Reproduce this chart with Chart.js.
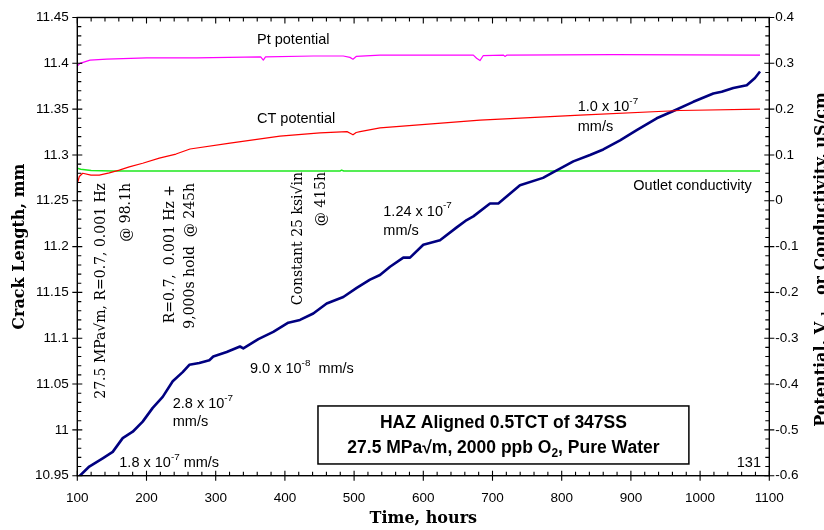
<!DOCTYPE html>
<html>
<head>
<meta charset="utf-8">
<script src="https://cdn.jsdelivr.net/npm/chart.js@4.4.1/dist/chart.umd.min.js"></script>
<style>
  html, body { margin: 0; padding: 0; background: #fff; overflow: hidden; }
</style>
</head>
<body>
<canvas id="crackChart" width="824" height="530"></canvas>
<script>
// crack length trace, hours vs mm
const crackHours = [101, 117.3, 136.7, 151.2, 165.6, 180.1, 194.5, 209.0, 223.4, 237.9, 252.3, 261.9, 276.3, 290.8,
  296.5, 315.9, 335.1, 339.9, 361.6, 383.2, 404.9, 421.8, 441.0, 460.4, 484.4, 503.8, 523.0, 537.4, 551.9, 571.1,
  580.8, 600.0, 624.1, 648.3, 662.7, 672.3, 696.4, 708.4, 739.7, 773.0, 787.4, 797.5, 816.8, 840.9, 860.1, 884.3,
  908.4, 937.3, 961.3, 990.2, 1019.1, 1031.2, 1048.0, 1067.4, 1079.3, 1086.6];
const crackMm = [10.948, 10.960, 10.969, 10.976, 10.991, 10.998, 11.009, 11.024, 11.036, 11.053, 11.063, 11.071, 11.073, 11.076,
  11.080, 11.085, 11.091, 11.089, 11.099, 11.107, 11.117, 11.120, 11.127, 11.138, 11.145, 11.155, 11.164, 11.169, 11.178, 11.188,
  11.188, 11.202, 11.207, 11.221, 11.229, 11.233, 11.247, 11.247, 11.267, 11.275, 11.281, 11.285, 11.293, 11.300, 11.306, 11.316,
  11.327, 11.340, 11.348, 11.358, 11.367, 11.369, 11.373, 11.376, 11.384, 11.391];

// CT potential, V(she)
const ctHours = [100, 102.9, 107.8, 119.8, 131.8, 146.2, 160.7, 175.1, 194.5, 218.5, 242.6, 262.9, 320.7, 392.9, 450.7,
  489.8, 495, 498.4, 503, 508.6, 537.5, 682.0, 826.5, 971.0, 1086.6];
const ctVolts = [0.037, 0.053, 0.060, 0.056, 0.056, 0.061, 0.067, 0.074, 0.082, 0.093, 0.102, 0.113, 0.126, 0.141, 0.148,
  0.151, 0.147, 0.144, 0.149, 0.151, 0.159, 0.176, 0.187, 0.197, 0.200];

// Pt potential, V(she)
const ptHours = [100, 103.9, 118.4, 142.5, 200.3, 272.5, 365, 368.8, 372, 441, 484.4, 494, 498.4, 503, 537.4, 672.3,
  677, 681.9, 686.7, 716, 718, 721, 874.6, 1086.6];
const ptVolts = [0.294, 0.300, 0.307, 0.309, 0.312, 0.312, 0.314, 0.307, 0.314, 0.316, 0.316, 0.313, 0.309, 0.315, 0.318, 0.318,
  0.311, 0.306, 0.317, 0.318, 0.315, 0.318, 0.319, 0.318];

// outlet conductivity, uS/cm
const condHours = [100, 105, 120, 150, 300, 480, 482, 485, 700, 900, 1086.6];
const condValues = [0.071, 0.069, 0.066, 0.065, 0.065, 0.065, 0.067, 0.065, 0.065, 0.065, 0.065];

// axis labels
const timeTicks = [100, 200, 300, 400, 500, 600, 700, 800, 900, 1000, 1100];
const lengthTicks = [10.95, 11, 11.05, 11.1, 11.15, 11.2, 11.25, 11.3, 11.35, 11.4, 11.45];
const potentialTicks = [-0.6, -0.5, -0.4, -0.3, -0.2, -0.1, 0, 0.1, 0.2, 0.3, 0.4];

const SANS = '"Liberation Sans", Arial, sans-serif';
const SERIF = '"DejaVu Serif", serif';

function pairs(xs, ys) {
  return xs.map((x, i) => ({ x: x, y: ys[i] }));
}

function plain(v) {
  return String(Number(v.toFixed(2)));
}

// text labels placed in time / crack-length units
const notes = [
  { t: 359.7, mm: 11.4255, segs: [{ s: 'Pt potential' }] },
  { t: 359.7, mm: 11.339, segs: [{ s: 'CT potential' }] },
  { t: 823.2, mm: 11.352, segs: [{ s: '1.0 x 10' }, { s: '-7', sup: true }] },
  { t: 823.2, mm: 11.331, segs: [{ s: 'mm/s' }] },
  { t: 903.5, mm: 11.2665, segs: [{ s: 'Outlet conductivity' }] },
  { t: 542.2, mm: 11.238, segs: [{ s: '1.24 x 10' }, { s: '-7', sup: true }] },
  { t: 542.2, mm: 11.2173, segs: [{ s: 'mm/s' }] },
  { t: 349.6, mm: 11.0664, segs: [{ s: '9.0 x 10' }, { s: '-8', sup: true }, { s: '  mm/s' }] },
  { t: 237.9, mm: 11.0283, segs: [{ s: '2.8 x 10' }, { s: '-7', sup: true }] },
  { t: 237.9, mm: 11.0089, segs: [{ s: 'mm/s' }] },
  { t: 160.7, mm: 10.9635, segs: [{ s: '1.8 x 10' }, { s: '-7', sup: true }, { s: ' mm/s' }] },
  { t: 1088, mm: 10.964, segs: [{ s: '131' }], align: 'right' }
];

// loading history, written vertically; anchor is the top end of each line
const events = [
  { t: 135.3, mm: 11.2694, text: '27.5 MPa\u221Am, R=0.7, 0.001 Hz' },
  { t: 171.4, mm: 11.2694, text: '@ 98.1h' },
  { t: 234.0, mm: 11.2672, text: 'R=0.7,  0.001 Hz +' },
  { t: 262.9, mm: 11.2694, text: '9,000s hold  @ 245h' },
  { t: 419.4, mm: 11.2814, text: 'Constant 25 ksi\u221Ain' },
  { t: 453.2, mm: 11.2814, text: '@ 415h' }
];

function drawRich(ctx, x, y, segs, size, weight, align) {
  const base = weight + ' ' + size + 'px ' + SANS;
  const small = weight + ' ' + (size * 0.68) + 'px ' + SANS;
  let width = 0;
  segs.forEach(g => {
    ctx.font = (g.sup || g.sub) ? small : base;
    width += ctx.measureText(g.s).width;
  });
  let cx = align === 'center' ? x - width / 2 : align === 'right' ? x - width : x;
  ctx.textAlign = 'left';
  ctx.textBaseline = 'middle';
  segs.forEach(g => {
    ctx.font = (g.sup || g.sub) ? small : base;
    let dy = 0;
    if (g.sup) dy = -size * 0.42;
    if (g.sub) dy = size * 0.3;
    ctx.fillText(g.s, cx, y + dy);
    cx += ctx.measureText(g.s).width;
  });
}

const frameAndNotes = {
  id: 'frameAndNotes',
  beforeDraw(chart) {
    const ctx = chart.ctx;
    ctx.save();
    ctx.fillStyle = '#fff';
    ctx.fillRect(0, 0, chart.width, chart.height);
    ctx.restore();
  },
  afterDraw(chart) {
    const { ctx, chartArea: a, scales } = chart;
    const x = scales.x, y = scales.y, y1 = scales.y1;
    ctx.save();
    ctx.strokeStyle = '#000';
    ctx.fillStyle = '#000';

    // plot frame
    ctx.lineWidth = 1.4;
    ctx.strokeRect(a.left, a.top, a.right - a.left, a.bottom - a.top);

    ctx.lineWidth = 1.1;
    ctx.beginPath();
    // time axis: minor every 20 h, major on labels
    for (let i = 0; i <= 50; i++) {
      const px = x.getPixelForValue(x.min + i * 20);
      ctx.moveTo(px, a.bottom); ctx.lineTo(px, a.bottom - 4);
      ctx.moveTo(px, a.top); ctx.lineTo(px, a.top + 4);
    }
    timeTicks.forEach(v => {
      const px = x.getPixelForValue(v);
      ctx.moveTo(px, a.bottom + 5); ctx.lineTo(px, a.bottom - 5);
      ctx.moveTo(px, a.top); ctx.lineTo(px, a.top + 6);
    });
    // crack length axis: minor every 0.01 mm
    for (let i = 0; i <= 50; i++) {
      const py = y.getPixelForValue(y.min + i * 0.01);
      ctx.moveTo(a.left, py); ctx.lineTo(a.left + 4, py);
    }
    lengthTicks.forEach(v => {
      const py = y.getPixelForValue(v);
      ctx.moveTo(a.left - 5, py); ctx.lineTo(a.left + 5, py);
    });
    // potential axis: minor every 0.02
    for (let i = 0; i <= 50; i++) {
      const py = y1.getPixelForValue(y1.min + i * 0.02);
      ctx.moveTo(a.right, py); ctx.lineTo(a.right - 4, py);
    }
    potentialTicks.forEach(v => {
      const py = y1.getPixelForValue(v);
      ctx.moveTo(a.right - 5, py); ctx.lineTo(a.right + 5, py);
    });
    ctx.stroke();

    // curve labels and rates
    notes.forEach(n => {
      drawRich(ctx, x.getPixelForValue(n.t), y.getPixelForValue(n.mm), n.segs, 14.5, 'normal', n.align || 'left');
    });

    // loading history, vertical
    ctx.font = '14px ' + SERIF;
    events.forEach(e => {
      ctx.save();
      ctx.translate(x.getPixelForValue(e.t), y.getPixelForValue(e.mm));
      ctx.rotate(-Math.PI / 2);
      ctx.textAlign = 'right';
      ctx.textBaseline = 'middle';
      ctx.fillText(e.text, 0, 0);
      ctx.restore();
    });

    // specimen box
    const bl = x.getPixelForValue(447.8), br = x.getPixelForValue(983.8);
    const bt = y.getPixelForValue(11.0261), bb = y.getPixelForValue(10.9628);
    ctx.fillStyle = '#fff';
    ctx.fillRect(bl, bt, br - bl, bb - bt);
    ctx.lineWidth = 1.5;
    ctx.strokeRect(bl, bt, br - bl, bb - bt);
    ctx.fillStyle = '#000';
    const bx = (bl + br) / 2;
    drawRich(ctx, bx, y.getPixelForValue(11.0078), [{ s: 'HAZ Aligned 0.5TCT of 347SS' }], 17.5, 'bold', 'center');
    drawRich(ctx, bx, y.getPixelForValue(10.980),
      [{ s: '27.5 MPa\u221Am, 2000 ppb O' }, { s: '2', sub: true }, { s: ', Pure Water' }], 17.5, 'bold', 'center');

    // right axis title, ending near the top; it runs off the page edge
    ctx.save();
    ctx.translate(826, 92);
    ctx.rotate(-Math.PI / 2);
    ctx.textBaseline = 'alphabetic';
    const big = 'bold 16px ' + SERIF, sub = 'bold 11px ' + SERIF;
    const parts = [['Potential, V', big, 0], ['she', sub, 4], [' or Conductivity, uS/cm', big, 0]];
    let total = 0;
    parts.forEach(p => { ctx.font = p[1]; total += ctx.measureText(p[0]).width; });
    let cx = -total;
    parts.forEach(p => {
      ctx.font = p[1];
      ctx.textAlign = 'left';
      ctx.fillText(p[0], cx, p[2]);
      cx += ctx.measureText(p[0]).width;
    });
    ctx.restore();

    ctx.restore();
  }
};

const tickFont = { family: SANS, size: 13.5 };

new Chart(document.getElementById('crackChart'), {
  type: 'line',
  data: {
    datasets: [
      { label: 'Crack length', data: pairs(crackHours, crackMm), yAxisID: 'y', borderColor: '#000080', borderWidth: 2.6, order: 2 },
      { label: 'CT potential', data: pairs(ctHours, ctVolts), yAxisID: 'y1', borderColor: '#ff0000', borderWidth: 1.2, order: 1 },
      { label: 'Pt potential', data: pairs(ptHours, ptVolts), yAxisID: 'y1', borderColor: '#ff00ff', borderWidth: 1.2, order: 1 },
      { label: 'Outlet conductivity', data: pairs(condHours, condValues), yAxisID: 'y1', borderColor: '#1ee81e', borderWidth: 1.5, order: 3 }
    ]
  },
  options: {
    responsive: false,
    animation: false,
    layout: { padding: { top: 17.5, left: 0, right: 0, bottom: 0 } },
    elements: { point: { radius: 0 }, line: { tension: 0, borderJoinStyle: 'round' } },
    plugins: { legend: { display: false }, tooltip: { enabled: false } },
    scales: {
      x: {
        type: 'linear', min: 100, max: 1100,
        grid: { display: false, drawTicks: false }, border: { display: false },
        afterBuildTicks: s => { s.ticks = timeTicks.map(v => ({ value: v })); },
        afterFit: s => { s.height = 54.3; },
        ticks: { font: tickFont, color: '#000', padding: 14, maxRotation: 0, autoSkip: false, callback: v => plain(v) },
        title: { display: true, text: 'Time, hours', color: '#000', font: { family: SERIF, size: 16, weight: 'bold' }, padding: { top: 0, bottom: 2 } }
      },
      y: {
        type: 'linear', position: 'left', min: 10.95, max: 11.45,
        grid: { display: false, drawTicks: false }, border: { display: false },
        afterBuildTicks: s => { s.ticks = lengthTicks.map(v => ({ value: v })); },
        afterFit: s => { s.width = 77.3; },
        ticks: { font: tickFont, color: '#000', padding: 8.5, autoSkip: false, callback: v => plain(v) },
        title: { display: true, text: 'Crack Length, mm', color: '#000', font: { family: SERIF, size: 16, weight: 'bold' }, padding: { top: 10, bottom: 0 } }
      },
      y1: {
        type: 'linear', position: 'right', min: -0.6, max: 0.4,
        grid: { display: false, drawTicks: false }, border: { display: false },
        afterBuildTicks: s => { s.ticks = potentialTicks.map(v => ({ value: v })); },
        afterFit: s => { s.width = 54.7; },
        ticks: { font: tickFont, color: '#000', padding: 6, autoSkip: false, callback: v => plain(v) }
      }
    }
  },
  plugins: [frameAndNotes]
});
</script>
</body>
</html>
